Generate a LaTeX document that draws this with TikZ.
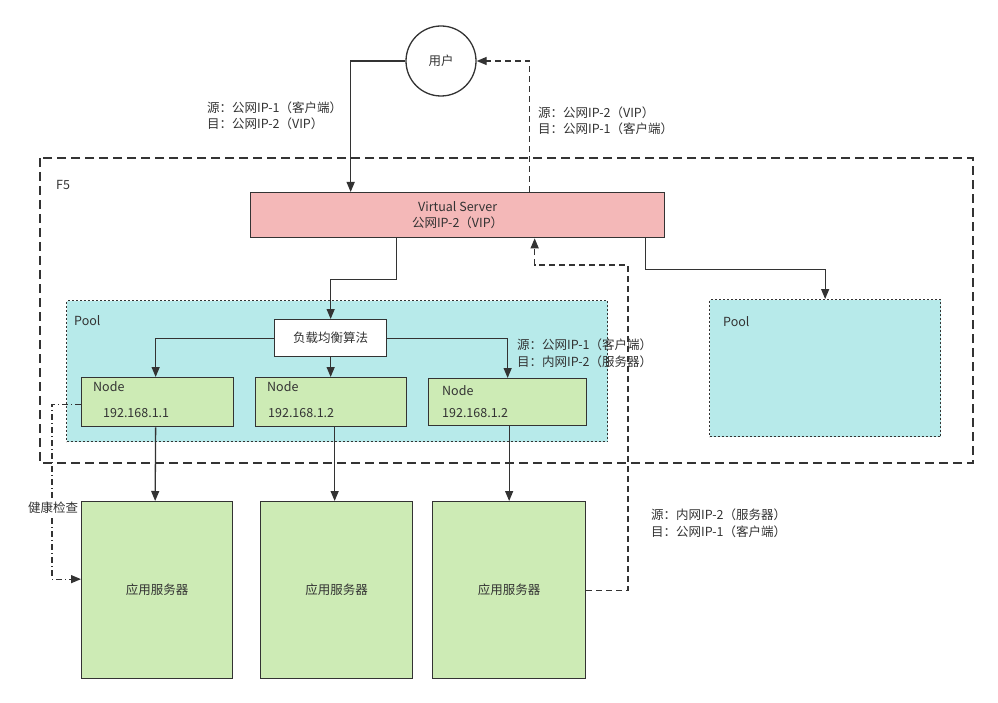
\documentclass[tikz,border=0pt]{standalone}
\usepackage{fontspec}
\setmainfont{Noto Sans CJK SC}
\usepackage{xcolor}
\usetikzlibrary{arrows.meta}
\usetikzlibrary{positioning}
\definecolor{linegray}{HTML}{333333}
\definecolor{vspink}{HTML}{F4B8B8}
\definecolor{poolcyan}{HTML}{B7EAEA}
\definecolor{nodegreen}{HTML}{CDEBB5}

\begin{document}
\begin{tikzpicture}[
  x=1pt, y=-1pt,
  every node/.style={font=\fontsize{12.5}{16.5}\selectfont, text=linegray},
  box/.style={draw=linegray, line width=1.3pt, anchor=north west, inner sep=0pt},
  vsbox/.style={box, fill=vspink, align=center},
  poolbox/.style={box, fill=poolcyan, line width=1.3pt, dash pattern=on 2pt off 2pt},
  nodebox/.style={box, fill=nodegreen},
  tag/.style={anchor=west, inner sep=0pt, align=left},
  arr/.style={draw=linegray, line width=1.3pt, -{Triangle[length=10pt,width=8pt]}},
  darr/.style={arr, dash pattern=on 6pt off 4pt},
  hcarr/.style={arr, dash pattern=on 6pt off 3pt on 1pt off 3pt}
]
\useasboundingbox (0,0) rectangle (998,703);

% F5 device
\draw[linegray, line width=1.3pt, dash pattern=on 9pt off 5pt] (40,158) rectangle (973,463);
\node[tag] (f5) at (56,185) {F5};

\node[vsbox, minimum width=414pt, minimum height=45pt] (vs) at (250,192)
  {Virtual Server\\公网IP-2（VIP）};

% pools
\node[poolbox, minimum width=541pt, minimum height=141pt] (p1) at (66,300) {};
\node[tag] (p1lbl) at (74,321) {Pool};
\node[poolbox, minimum width=231pt, minimum height=137pt] (p2) at (709,299) {};
\node[tag] (p2lbl) at (723,322) {Pool};

\node[box, fill=white, minimum width=112pt, minimum height=37pt] (algo) at (274,319) {负载均衡算法};

\node[nodebox, minimum width=152pt, minimum height=49pt] (n1) at (81,377) {};
\node[nodebox, minimum width=151pt, minimum height=49pt] (n2) at (255,377) {};
\node[nodebox, minimum width=158pt, minimum height=47pt] (n3) at (428,378) {};
\node[tag] at (93,387) {Node};
\node[tag] at (103,413) {192.168.1.1};
\node[tag] at (267,387) {Node};
\node[tag] at (268,413) {192.168.1.2};
\node[tag] at (442,391) {Node};
\node[tag] at (442,413) {192.168.1.2};

% servers
\node[nodebox, minimum width=151pt, minimum height=177pt] (s1) at (81,501) {};
\node[nodebox, minimum width=152pt, minimum height=177pt] (s2) at (260,501) {};
\node[nodebox, minimum width=153pt, minimum height=177pt] (s3) at (432,501) {};
\node at (s1.center) {应用服务器};
\node at (s2.center) {应用服务器};
\node at (s3.center) {应用服务器};

\node[draw=linegray, line width=1.3pt, circle, minimum size=70pt, inner sep=0pt] (user) at (441,61) {用户};

% connectors
\draw[arr] (user.west) -| ([xshift=-107pt]vs.north);
\draw[darr] ([xshift=72pt]vs.north) |- (user.east);
\draw[arr] ([xshift=-61pt]vs.south) -- ++(0,41) -| (algo.north);
\draw[arr] ([xshift=188pt]vs.south) -- ++(0,31) -| (p2.north);
\draw[arr] (algo.west) -| ([xshift=-2pt]n1.north);
\draw[arr] (algo.south) -- (n2.north -| algo.south);
\draw[arr] (algo.east) -| (n3.north);
\draw[arr] ([xshift=-2pt]n1.south) -- ([xshift=-2pt]s1.north);
\draw[arr] ([xshift=-2pt]s2.north |- n2.south) -- ([xshift=-2pt]s2.north);
\draw[arr] (s3.north |- n3.south) -- (s3.north);
\draw[hcarr] ([yshift=-2pt]n1.west) -- ++(-29,0) |- ([yshift=11pt]s1.west);
\draw[darr] (s3.east) -| (628,265) -| ([xshift=77pt]vs.south);

% labels
\node[fill=white, inner sep=1pt] (hc) at (53,508) {健康检查};
\node[tag] (lab1) at (207,116) {源：公网IP-1（客户端）\\目：公网IP-2（VIP）};
\node[tag] (lab2) at (538,121) {源：公网IP-2（VIP）\\目：公网IP-1（客户端）};
\node[tag] (lab3) at (517,353) {源：公网IP-1（客户端）\\目：内网IP-2（服务器）};
\node[tag] (lab4) at (651,523) {源：内网IP-2（服务器）\\目：公网IP-1（客户端）};
\end{tikzpicture}
\end{document}
